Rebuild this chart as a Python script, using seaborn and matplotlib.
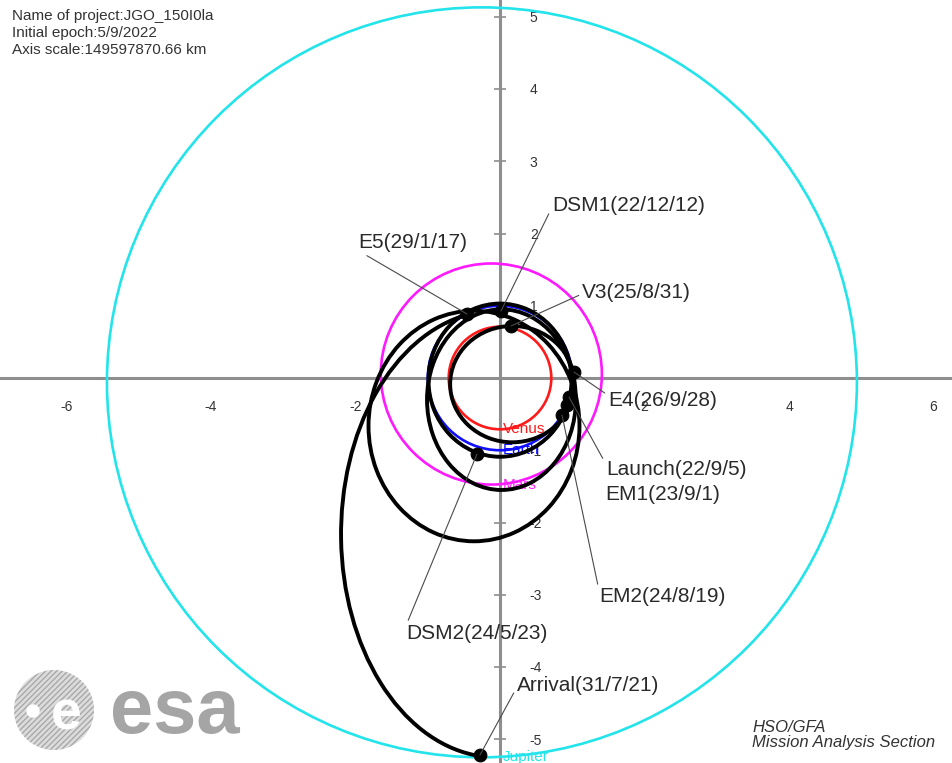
import matplotlib
matplotlib.use("Agg")
import matplotlib.pyplot as plt
from matplotlib.patches import Arc, Ellipse, Circle
import seaborn as sns

# ---- header / footer text
project_info = ["Name of project:JGO_150I0la",
                "Initial epoch:5/9/2022",
                "Axis scale:149597870.66 km"]
credit = ["HSO/GFA", "Mission Analysis Section"]

# ---- planet orbits (AU)
planets = ["Venus", "Earth", "Mars", "Jupiter"]
planet_cx = [0.0, 0.0, -0.12, -0.25]
planet_cy = [0.0, 0.0, 0.055, -0.06]
planet_r = [0.71, 1.0, 1.53, 5.19]
planet_colors = ["#ff1a1a", "#1010ff", "#ff19ff", "#22e4ea"]

leg_cx = [-0.36, 0.02, 0.0, 0.17, -0.05]
leg_cy = [-0.665, -0.30, -0.03, -0.085, -2.16]
leg_w = [2.92, 2.06, 1.98, 1.72, 4.30]
leg_h = [3.19, 2.50, 2.12, 1.61, 6.18]
leg_tilt = [0, 0, 0, 0, 0]
leg_t1 = [0, 0, 0, 0, 97.6]
leg_t2 = [360, 360, 360, 360, 264.3]

# ---- mission events
events = ["DSM1(22/12/12)", "E5(29/1/17)", "V3(25/8/31)", "E4(26/9/28)",
          "Launch(22/9/5)", "EM1(23/9/1)", "EM2(24/8/19)", "DSM2(24/5/23)",
          "Arrival(31/7/21)"]
event_x = [0.014, -0.457, 0.152, 1.024, 0.955, 0.927, 0.858, -0.318, -0.277]
event_y = [0.927, 0.886, 0.720, 0.083, -0.263, -0.374, -0.512, -1.052, -5.218]
label_x = [0.72, -1.965, 1.135, 1.495, 1.467, 1.453, 1.37, -1.30, 0.235]
label_y = [2.39, 1.87, 1.19, -0.318, -1.273, -1.606, -3.03, -3.53, -4.25]
has_leader = [True, True, True, True, True, False, True, True, True]
leader_rel = [0.4, 0.1, 0.4, 0.8, 0.8, 0.5, 0.85, 0.9, 0.4]

xticks = [-6, -4, -2, 2, 4, 6]
yticks = [-5, -4, -3, -2, -1, 1, 2, 3, 4, 5]

sns.set_theme(style="white")
plt.rcParams["font.family"] = ["Liberation Sans", "DejaVu Sans"]
plt.rcParams["axes.unicode_minus"] = False
plt.rcParams["hatch.linewidth"] = 1.0

W, H, DPI = 953, 763, 100
px = 72.25  # pixels per AU
fig = plt.figure(figsize=(W / DPI, H / DPI), dpi=DPI)
ax = fig.add_axes([0, 0, 1, 1])
ax.set_xlim(-500 / px, (W - 500) / px)
ax.set_ylim(-(H - 378) / px, 378 / px)
ax.set_facecolor("white")

# axes through the origin
for side in ["left", "top"]:
    ax.spines[side].set_visible(False)
ax.spines["right"].set_position(("data", 0))
ax.spines["bottom"].set_position(("data", 0))
for side in ["right", "bottom"]:
    ax.spines[side].set_color("#8e8e8e")
    ax.spines[side].set_linewidth(2.2)
    ax.spines[side].set_zorder(2)
ax.yaxis.tick_right()
ax.set_xticks(xticks)
ax.set_yticks(yticks)
ax.tick_params(direction="inout", length=9, width=1.2, color="#8e8e8e",
               labelcolor="#333333", labelsize=10)
ax.tick_params(axis="y", pad=17)
ax.tick_params(axis="x", pad=11)

# planet orbits
for name, cx, cy, r, c in zip(planets, planet_cx, planet_cy, planet_r, planet_colors):
    ax.add_patch(Ellipse((cx, cy), 2 * r, 2 * r, fill=False, ec=c, lw=1.9, zorder=3))
    ax.text(0.04, cy - r, name, color=c, fontsize=11, ha="left", va="center", zorder=3)

# trajectory
for cx, cy, w, h, a, t1, t2 in zip(leg_cx, leg_cy, leg_w, leg_h, leg_tilt, leg_t1, leg_t2):
    ax.add_patch(Arc((cx, cy), w, h, angle=a, theta1=t1, theta2=t2,
                     color="black", lw=2.8, zorder=4))

sns.scatterplot(x=event_x, y=event_y, s=85, color="black", edgecolor="black",
                zorder=5, ax=ax, legend=False)

for name, x, y, lx, ly, lead, rel in zip(events, event_x, event_y, label_x,
                                        label_y, has_leader, leader_rel):
    if lead:
        ax.annotate(name, xy=(x, y), xytext=(lx, ly), fontsize=15, color="#2a2a2a",
                    ha="left", va="center", zorder=6,
                    arrowprops=dict(arrowstyle="-", color="#4a4a4a", lw=0.8,
                                    shrinkA=0, shrinkB=0, relpos=(0, rel)))
    else:
        ax.text(lx, ly, name, fontsize=15, color="#2a2a2a", ha="left", va="center",
                zorder=6)

# header and credits
for i, line in enumerate(project_info):
    fig.text(12 / W, 1 - (16 + 17 * i) / H, line, fontsize=11, color="#333333",
             ha="left", va="center")
for i, line in enumerate(credit):
    fig.text(752 / W, 1 - (727 + 16 * i) / H, line, fontsize=12, style="italic",
             color="#333333", ha="left", va="center")

# esa logo (pixel coordinates overlay)
lg = fig.add_axes([0, 0, 1, 1], facecolor="none")
lg.set_xlim(0, W)
lg.set_ylim(H, 0)
lg.axis("off")
lg.add_patch(Circle((54, 710), 40, facecolor="#dcdcdc", edgecolor="#a9a9a9",
                    hatch="//////", lw=0))
lg.add_patch(Circle((33, 711), 6, color="white"))
lg.text(66, 716, "e", fontsize=40, fontweight="bold", color="white",
        ha="center", va="center")
lg.text(110, 733, "esa", fontsize=56, fontweight="bold", color="#a5a5a5",
        ha="left", va="baseline")

fig.savefig("out.png", dpi=DPI)
